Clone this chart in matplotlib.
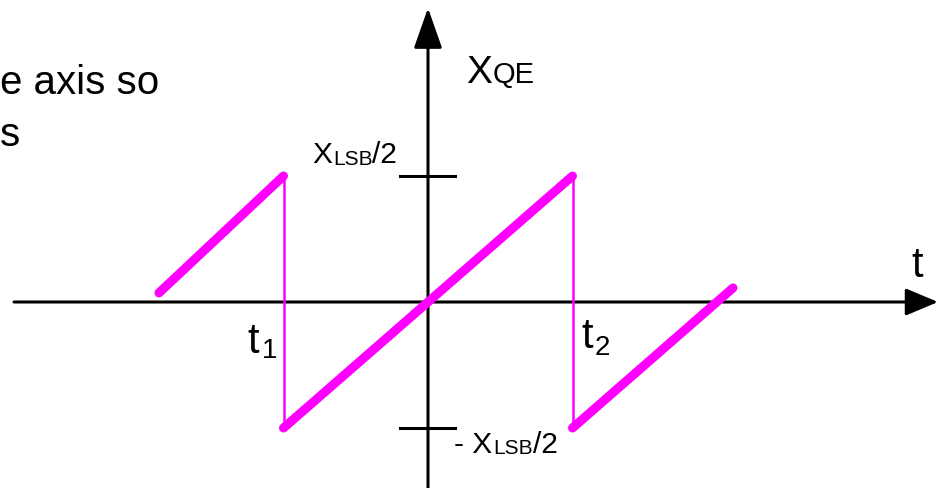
import matplotlib
matplotlib.use("Agg")
import matplotlib.pyplot as plt

plt.rcParams['font.family'] = ['Liberation Sans', 'DejaVu Sans']

# sawtooth quantisation error, t in units where t1 = -1, t2 = +1, error in x_LSB
seg_left_t = [-1.862, -1.0]
seg_left_e = [0.036, 0.5]
seg_mid_t = [-1.0, 1.0]
seg_mid_e = [-0.5, 0.5]
seg_right_t = [1.0, 2.111]
seg_right_e = [-0.5, 0.056]
jump_t = [-1.0, 1.0]
jump_top = 0.5
jump_bottom = -0.5
tick_levels = [0.5, -0.5]

# pixel -> data helpers (origin at pixel 428, 302)
X0, Y0, SX, SY = 428.0, 302.0, 144.5, 252.0


def px(x, y):
    return (x - X0) / SX, (Y0 - y) / SY


fig = plt.figure(figsize=(9.38, 4.88), dpi=100)
ax = fig.add_axes([0, 0, 1, 1])
ax.set_xlim(px(0, 0)[0], px(938, 0)[0])
ax.set_ylim(px(0, 488)[1], px(0, 0)[1])
ax.axis('off')

axis_kw = dict(color='black', lw=2.2)

# horizontal axis with arrow
ax.annotate('', xy=px(938, 302), xytext=px(14, 302),
            arrowprops=dict(arrowstyle='-|>,head_length=1.0,head_width=0.42',
                            mutation_scale=20, shrinkA=0, shrinkB=0, **axis_kw))
# vertical axis with arrow
ax.annotate('', xy=px(428, 8), xytext=px(428, 488),
            arrowprops=dict(arrowstyle='-|>,head_length=1.25,head_width=0.44',
                            mutation_scale=20, shrinkA=0, shrinkB=0, **axis_kw))

# level ticks on the vertical axis
for lv in tick_levels:
    ax.plot([px(400, 0)[0], px(455, 0)[0]], [lv, lv], **axis_kw)

magenta = '#ff00ff'
thick = dict(color=magenta, lw=6.5, solid_capstyle='round', zorder=3)
ax.plot(seg_left_t, seg_left_e, **thick)
ax.plot(seg_mid_t, seg_mid_e, **thick)
ax.plot(seg_right_t, seg_right_e, **thick)
for tj in jump_t:
    ax.plot([tj, tj], [jump_top, jump_bottom], color=magenta, lw=1.8, zorder=3)


def txt(x, y, s, size):
    ax.text(*px(x, y), s, fontsize=size, ha='left', va='baseline', color='black')


# axis labels
txt(466, 83, 'X', 28)
txt(493, 83, 'QE', 21)
txt(911, 277, 't', 30)

# t1, t2
txt(247, 353, 't', 30)
txt(262, 358, '1', 20)
txt(581, 348, 't', 30)
txt(595, 355, '2', 20)

# level labels
txt(312, 163, 'X', 21.5)
txt(333, 165, 'LSB', 15)
txt(372, 163, '/2', 21.5)
txt(454, 453, '- X', 21.5)
txt(493, 454, 'LSB', 15)
txt(533, 453, '/2', 21.5)

# clipped slide text at top left
txt(0, 94, 'e axis so', 29)
txt(0, 146, 's', 29)

fig.savefig('out.png', dpi=100)
